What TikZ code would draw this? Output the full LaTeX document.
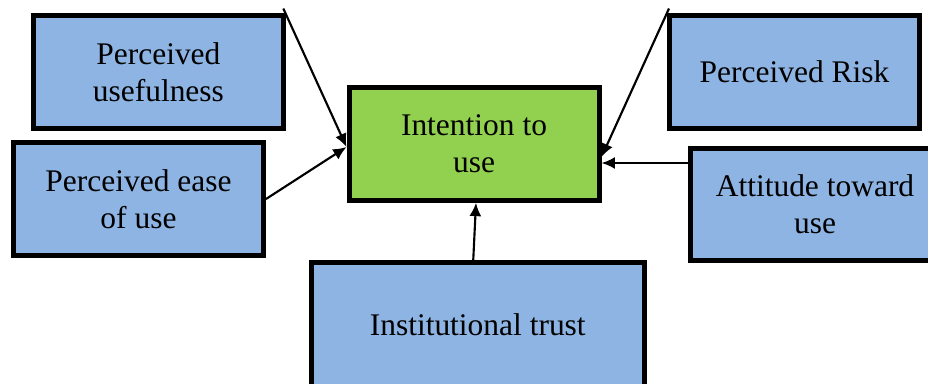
\documentclass[tikz,border=0pt]{standalone}
\usepackage{fontspec}
\setmainfont{Liberation Serif}
\usetikzlibrary{arrows.meta,calc}
\definecolor{factorblue}{HTML}{8EB4E3}
\definecolor{targetgreen}{HTML}{92D050}
\tikzset{factor/.style = {draw, line width=3.75pt, fill=factorblue, minimum width=187.5pt, minimum height=84.4pt, align=center, font=\fontsize{23.6}{27.8}\selectfont}}
\tikzset{target/.style = {factor, fill=targetgreen}}
\tikzset{link/.style = {-{Latex[length=10pt,width=9pt]}, line width=1.6pt}}

\begin{document}
\begin{tikzpicture}[x=0.75pt, y=-0.75pt]
  \useasboundingbox (0,0) rectangle (928,383);
  \node [factor] (pu) at (158.4,72) {Perceived\\usefulness};
  \node [factor] (peou) at (138.5,199) {Perceived ease\\of use};
  \node [target] (intent) at (474,144) {Intention to\\use};
  \node [factor] (risk) at (794.5,72) {Perceived Risk};
  \node [factor] (attitude) at (815,204.3) {Attitude toward\\use};
  \node [factor, minimum width=250pt, minimum height=93.75pt] (trust) at (477.75,325) {Institutional trust};
  % free ends of the two upper links
  \coordinate (pufree) at (283.3,8.5);
  \coordinate (riskfree) at (669,8.5);
  \coordinate (lefttip) at ($(intent.west)+(0,3)$);
  \coordinate (risktip) at ($(intent.east)+(0,13)$);
  \coordinate (atttip) at ($(intent.east)+(0,19)$);
  \draw [link] (pufree) -- (lefttip);
  \draw [link] (peou.east) -- (lefttip);
  \draw [link] (riskfree) -- (risktip);
  \draw [link] (attitude.west |- atttip) -- (atttip);
  \draw [link] ($(trust.north)+(-4.5,0)$) -- ($(intent.south)+(2,0)$);
\end{tikzpicture}
\end{document}
